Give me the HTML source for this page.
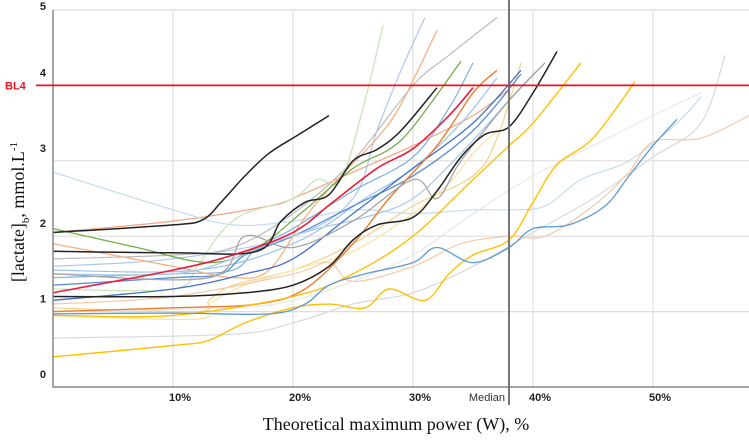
<!DOCTYPE html>
<html><head><meta charset="utf-8"><style>
html,body{margin:0;padding:0;background:#fff;}
svg{display:block;}
text{font-family:"Liberation Sans",sans-serif;}
</style></head><body>
<svg id="chart" width="749" height="440" viewBox="0 0 749 440"></svg>
<script>
const xTicks=[10,20,30,40,50];
const xTickLabels=["10%","20%","30%","40%","50%"];
const yTicks=[0,1,2,3,4,5];
const yTickLabels=["0","1","2","3","4","5"];
const medianValue=38;
const bl4Value=4;
const seriesColors=["#bbbbbb","#f4a582","#f2d28a","#c6dbef","#d9d9d9","#aec7e8","#fbe3a0","#f6c8a8","#c7e2b4","#9fc2e8","#5b8ed6","#7fb0e0","#f4b183","#70ad47","#a9cbe9","#e8e8e8","#4472c4","#ed7d31","#ffc000","#ffc000","#5b9bd5","#a5a5a5","#222222","#222222","#222222","#ee1c3c"];
const seriesWidths=[1.2,1.2,1.2,1.2,1.2,1.2,1.2,1.2,1.2,1.2,1.3,1.2,1.3,1.3,1.3,1.2,1.3,1.4,1.4,1.4,1.3,1.3,1.5,1.5,1.5,1.6];
const s0=[[0,1.7],[10,1.75],[15,1.85],[20,2.3],[25,3.0],[30,4.0],[33,4.4],[37,4.9]];
const s1=[[0,2.05],[10,2.2],[18,2.4],[20,2.5],[25,2.85],[30,3.2],[35,3.6],[38,3.95]];
const s2=[[0,1.05],[12,1.0],[13,1.15],[15,1.35],[20,1.55],[25,1.9],[30,2.4],[35,2.8],[37,3.3],[39,4.3]];
const s3=[[0,2.85],[10,2.35],[15,2.15],[20,2.2],[25,2.35],[30,2.3],[35,2.35],[38,2.35],[41,2.4],[44,2.75],[48,3.0],[52,3.5],[54,3.85]];
const s4=[[0,0.65],[15,0.7],[20,0.85],[25,1.1],[30,1.25],[35,1.6],[40,2.05],[45,2.5],[50,3.05],[54,3.5],[56,4.4]];
const s5=[[0,1.6],[10,1.7],[20,2.0],[25,2.5],[27,3.4],[29,4.2],[31,4.9]];
const s6=[[0,0.95],[12,0.9],[13,1.1],[16,1.35],[20,1.55],[25,1.8],[30,2.3],[33,2.7],[35,3.1],[37,3.4]];
const s7=[[0,1.1],[10,1.2],[20,1.5],[23,1.65],[25,1.4],[30,1.6],[34,1.9],[38,2.0],[41,2.0],[45,2.4],[48,2.85],[50,3.25],[54,3.3],[58,3.6]];
const s8=[[0,1.3],[10,1.3],[12,1.6],[14,2.05],[16,2.3],[20,2.5],[22,2.75],[24,2.75],[26,3.8],[27.5,4.8]];
const s9=[[0,1.55],[12,1.55],[20,1.9],[26,2.5],[30,2.9],[34,3.5],[37,4.1]];
const s10=[[0,1.35],[10,1.45],[14,1.5],[16,1.75],[20,2.0],[25,2.4],[30,2.8],[35,3.4],[39,4.15]];
const s11=[[0,1.45],[10,1.5],[15,1.55],[17,1.85],[20,2.1],[25,2.6],[30,3.05],[33,3.7],[35,4.3]];
const s12=[[0,1.9],[10,1.6],[15,1.45],[18,1.55],[21,2.25],[24,2.8],[27,3.3],[29,3.75],[32,4.73]];
const s13=[[0,2.1],[7,1.85],[13,1.65],[17,1.85],[21,2.35],[25,2.9],[28,3.15],[30,3.45],[34,4.32]];
const s14=[[0,1.5],[10,1.5],[15,1.7],[18,1.9],[22,2.1],[26,2.25],[30,2.5],[34,3.1],[38,3.8],[41,4.3]];
const s15=[[0,1.0],[15,1.05],[20,1.15],[25,1.4],[30,1.75],[35,2.3],[40,2.8],[45,3.2],[50,3.6],[54,3.9]];
const s16=[[0,1.15],[10,1.3],[16,1.5],[20,1.7],[25,2.3],[30,2.9],[35,3.5],[39,4.2]];
const s17=[[0,1.0],[10,1.05],[17,1.1],[21,1.3],[25,1.9],[28,2.5],[32,3.2],[35,3.9],[37,4.2]];
const s18=[[0,0.4],[10,0.55],[13,0.62],[16,0.85],[20,1.05],[23,1.1],[26,1.05],[28,1.3],[31,1.15],[33,1.5],[35,1.75],[38,1.95],[40,2.45],[42,2.95],[45,3.3],[48.5,4.05]];
const s19=[[0,0.95],[10,0.95],[20,1.2],[25,1.5],[30,2.0],[35,2.75],[38,3.2],[40,3.5],[44,4.3]];
const s20=[[0,0.97],[10,0.98],[18,0.97],[21,1.1],[23,1.35],[26,1.5],[30,1.65],[32,1.85],[35,1.65],[38,1.85],[40,2.1],[43,2.15],[46,2.4],[48,2.8],[50,3.2],[52,3.55]];
const s21=[[0,1.5],[13,1.45],[16,2.0],[20,1.85],[25,2.2],[30,2.75],[32,2.5],[34,3.0],[38,3.8],[41,4.3]];
const s22=[[0,2.05],[10,2.15],[12.5,2.22],[14,2.45],[16,2.8],[18,3.1],[20.5,3.35],[23,3.6]];
const s23=[[0,1.8],[10,1.78],[17,1.8],[19,2.2],[21,2.45],[23,2.55],[25,3.0],[27,3.15],[29,3.4],[32,3.97]];
const s24=[[0,1.3],[6,1.22],[12,1.13],[13,1.2],[14,1.45],[15.3,1.52],[16.7,1.4],[18,1.5],[20,1.72],[22,1.82],[24,2.0],[26,2.1],[28,2.72],[30,2.8],[32,2.85],[34,3.3],[35.5,3.7],[37,4.32]];
const s25=[[0,1.25],[10,1.55],[15,1.75],[20,2.05],[23.3,2.45],[27,2.9],[30,3.16],[33,3.6],[35,3.97]];
const s26=[[0,1.2],[10,1.2],[16,1.25],[20,1.35],[23,1.6],[25,1.95],[27,2.15],[30,2.25],[32,2.6],[34,3.05],[36,3.35],[38,3.45],[40,3.9],[42,4.45]];
const allSeries=[s0,s1,s2,s3,s4,s5,s6,s7,s8,s9,s10,s11,s12,s13,s14,s15,s16,s17,s18,s19,s20,s21,s22,s23,s26,s25];

const NS="http://www.w3.org/2000/svg";
const svg=document.getElementById('chart');
const X0=53,PX=12,Y0=387,PY=75.4;
function xs(v){return X0+v*PX;}
function ys(v){return Y0-v*PY;}
function el(tag,attrs,parent){const e=document.createElementNS(NS,tag);for(const k in attrs)e.setAttribute(k,attrs[k]);(parent||svg).appendChild(e);return e;}

const grid=el('g',{});


yTicks.forEach((t,i)=>{
  if(t>0){const l=el('line',{x1:X0,x2:749,y1:ys(t),y2:ys(t),stroke:'#dedede','stroke-width':1.2},grid);
  
  }
  const tx=el('text',{x:46,y:Math.max(10,ys(t)-9),'text-anchor':'end','font-size':11,'font-weight':'bold',fill:'#222'});
  tx.textContent=yTickLabels[i];
  
  
});
xTicks.forEach((t,i)=>{
  const l=el('line',{x1:xs(t),x2:xs(t),y1:ys(5),y2:Y0,stroke:'#dedede','stroke-width':1.2},grid);
  
  
  const tx=el('text',{x:xs(t)+7,y:401,'text-anchor':'middle','font-size':11,'font-weight':'bold',fill:'#222'});
  tx.textContent=xTickLabels[i];
  
  
});

function pathFor(pts){
  const p=pts.map(q=>[xs(q[0]),ys(q[1])]);
  let d='M'+p[0][0]+','+p[0][1];
  for(let i=0;i<p.length-1;i++){
    const a=p[i-1]||p[i],b=p[i],c=p[i+1],e=p[i+2]||c;
    const c1=[b[0]+(c[0]-a[0])/6,b[1]+(c[1]-a[1])/6];
    const c2=[c[0]-(e[0]-b[0])/6,c[1]-(e[1]-b[1])/6];
    d+=' C'+c1[0].toFixed(1)+','+c1[1].toFixed(1)+' '+c2[0].toFixed(1)+','+c2[1].toFixed(1)+' '+c[0].toFixed(1)+','+c[1].toFixed(1);
  }
  return d;
}
const lines=el('g',{});


allSeries.forEach((s,i)=>{
  const p=el('path',{d:pathFor(s),fill:'none',stroke:seriesColors[i],'stroke-width':seriesWidths[i]},lines);
  
  
});

const ax=el('path',{d:'M'+X0+','+ys(5)+' V'+Y0+' H749',fill:'none',stroke:'#888','stroke-width':1.5});


const med=el('line',{x1:xs(medianValue),x2:xs(medianValue),y1:0,y2:405,stroke:'#777','stroke-width':2});


const medT=el('text',{x:xs(medianValue)-4,y:401,'text-anchor':'end','font-size':11,fill:'#333'});
medT.textContent='Median';


const bl=el('line',{x1:36,x2:749,y1:ys(bl4Value),y2:ys(bl4Value),stroke:'#e8141e','stroke-width':1.8});


const blT=el('text',{x:5,y:ys(bl4Value)+4,'font-size':11,'font-weight':'bold',fill:'#e8141e'});
blT.textContent='BL4';


</script>
<div style="position:absolute;left:0;width:792px;text-align:center;font-family:'Liberation Serif',serif;font-size:18px;color:#111;top:414px;">Theoretical maximum power (W), %</div>
<div style="position:absolute;left:20px;top:212px;transform:translate(-50%,-50%) rotate(-90deg);white-space:nowrap;font-family:'Liberation Serif',serif;font-size:18px;color:#111;">[lactate]<sub style="font-size:11px">b</sub>, mmol.L<sup style="font-size:11px">-1</sup></div>
</body></html>
